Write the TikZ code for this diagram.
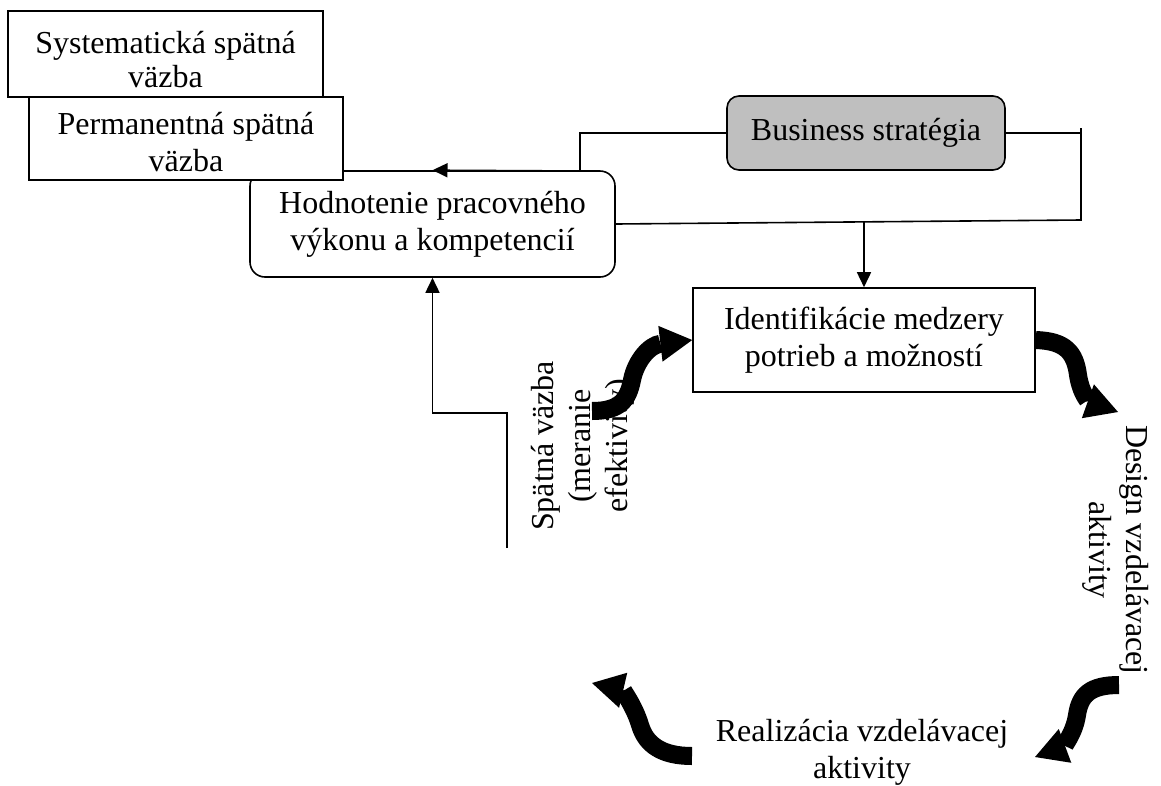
\documentclass[tikz,border=0pt]{standalone}
\usepackage{fontspec}
\setmainfont{Liberation Serif}
\usetikzlibrary{arrows.meta}

\begin{document}
\begin{tikzpicture}[x=1pt,y=-1pt,
			box/.style={draw,fill=white,line width=1.6pt,align=center,inner sep=0pt},
			rbox/.style={box,rounded corners=15pt},
			lab/.style={align=center,inner sep=0pt},
			link/.style={line width=1.6pt},
			arr/.style={link,-{Triangle[length=15pt,width=14pt]}},
			curly/.style={line width=18pt,-{Triangle[length=32pt,width=36pt,line width=0pt]}},
			font=\fontsize{32}{37}\selectfont]
			\useasboundingbox (0,0) rectangle (1161,785);
			\node [rbox,minimum width=365pt,minimum height=106pt]	(hodn)	at (432.5,224)	{Hodnotenie pracovného\\výkonu a kompetencií};
			\node [box,minimum width=315pt,minimum height=86pt]	(syst)	at (165.5,54)	{};
				\node [lab] (systl) at (165.5,59.5) {Systematická spätná\\[-3pt]väzba};
			\node [box,minimum width=314pt,minimum height=83pt]	(perm)	at (186,138.5)	{};
				\node [lab] (perml) at (186,142.5) {Permanentná spätná\\väzba};
			\node [rbox,rounded corners=12pt,fill=black!25,minimum width=278pt,minimum height=74pt]	(bus)	at (866,133)	{Business stratégia};
			\node [box,minimum width=342pt,minimum height=104pt]	(iden)	at (864,340)	{Identifikácie medzery\\potrieb a možností};
			\node [lab,rotate=90]	(spat)	at (583,446)	{Spätná väzba\\(meranie\\efektivity)};
			\node [lab,rotate=-90]	(desg)	at (1116,550)	{Design vzdelávacej\\aktivity};
			\node [lab]	(real)	at (862,752)	{Realizácia vzdelávacej\\aktivity};
			\coordinate (j1) at (580,171);
			\coordinate (rtop) at (1081,128);
			\coordinate (rbot) at (1081,220);
			\coordinate (down) at (864,222);
			\coordinate (fb) at (507,548);
			\coordinate (fbk) at (432.5,413);
			\draw [link] (bus.west) -| (j1) -- (perm.east |- j1);
			\draw [arr] (j1) -- (hodn.north);
			\draw [link] (bus.east) -- (bus.east -| rtop);
			\draw [link] (rtop) -- (rbot) -- (hodn.east);
			\draw [arr] (down) -- (iden.north);
			\draw [arr] (fb) |- (fbk) -- (hodn.south);
			\coordinate (c1) at (592,411);
			\coordinate (c2) at (1118,412);
			\coordinate (c3) at (1119,685);
			\coordinate (c4) at (1035,757);
			\coordinate (c5) at (692,756);
			\coordinate (c6) at (592,683);
			\draw [curly] (c1) .. controls (620,411) and (628,400) .. (632,380) .. controls (636,360) and (650,345) .. (iden.west);
			\draw [curly] (iden.east) .. controls (1065,341) and (1075,352) .. (1078,375) .. controls (1081,395) and (1090,402) .. (c2);
			\draw [curly] (c3) .. controls (1090,685) and (1080,695) .. (1077,715) .. controls (1074,735) and (1062,747) .. (c4);
			\draw [curly] (c5) .. controls (662,756) and (646,745) .. (640,725) .. controls (634,705) and (622,690) .. (c6);
		\end{tikzpicture}
\end{document}
